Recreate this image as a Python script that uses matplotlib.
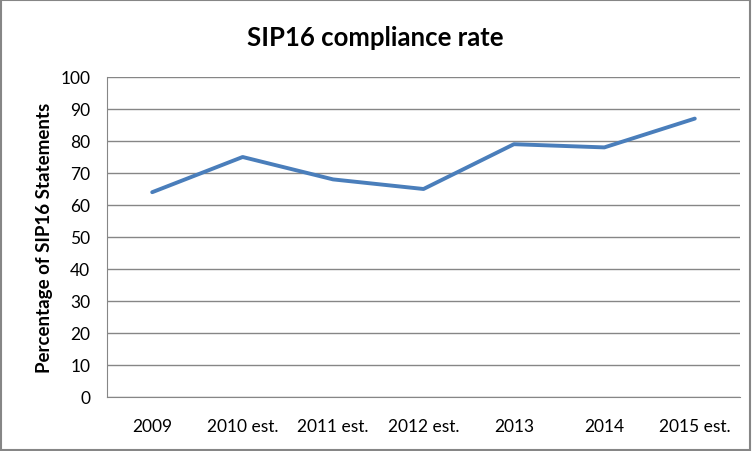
import matplotlib
matplotlib.use("Agg")
import matplotlib.pyplot as plt
from matplotlib.patches import Rectangle

categories = ["2009", "2010 est.", "2011 est.", "2012 est.", "2013", "2014", "2015 est."]
compliance = [64, 75, 68, 65, 79, 78, 87]
yticks = list(range(0, 101, 10))

plt.rcParams['font.family'] = ['Lato', 'DejaVu Sans']

fig = plt.figure(figsize=(7.52, 4.52), dpi=100)
ax = fig.add_axes([107/752, 54/452, 633/752, 320/452])

x = list(range(len(categories)))
ax.plot(x, compliance, color="#4A7EBB", linewidth=2.8, solid_joinstyle="round",
        solid_capstyle="round", zorder=3)

ax.set_xlim(-0.5, len(categories) - 0.5)
ax.set_ylim(0, 100)
ax.set_yticks(yticks)
ax.set_xticks(x)
ax.set_xticklabels(categories)
ax.grid(axis="y", color="#868686", linewidth=1)
ax.set_axisbelow(True)
for s in ["top", "right"]:
    ax.spines[s].set_visible(False)
ax.spines["left"].set_color("#868686")
ax.spines["bottom"].set_color("#868686")
ax.tick_params(length=0, labelsize=12.5, colors="black")
ax.tick_params(axis="y", pad=12)
ax.tick_params(axis="x", pad=15)

ax.set_ylabel("Percentage of SIP16 Statements", fontsize=13.5, fontweight="bold", labelpad=5)
fig.suptitle("SIP16 compliance rate", x=375/752, y=1 - 38/452, va="center",
             fontsize=18.5, fontweight="bold")

fig.patches.append(Rectangle((0.001, 0.002), 0.997, 0.996, transform=fig.transFigure,
                             fill=False, edgecolor="#868686", linewidth=1.5))

fig.savefig("out.png", dpi=100)
